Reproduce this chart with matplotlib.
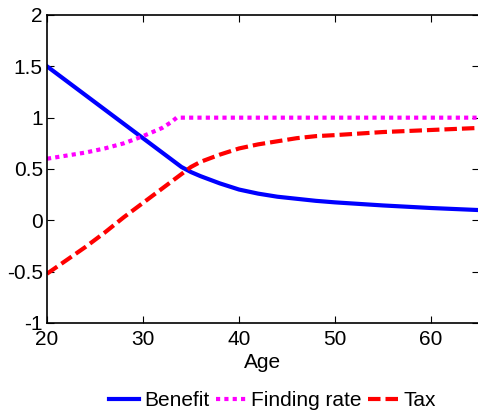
import matplotlib
matplotlib.use("Agg")
import matplotlib.pyplot as plt

plt.rcParams["font.family"] = ["Liberation Sans", "DejaVu Sans"]

# values
age_benefit = [20, 22, 24, 26, 28, 30, 32, 34, 35, 36, 38, 40, 42, 44, 46, 48, 50, 55, 60, 65]
benefit = [1.5, 1.36, 1.22, 1.08, 0.94, 0.80, 0.66, 0.52, 0.47, 0.43, 0.36, 0.30,
           0.26, 0.23, 0.21, 0.19, 0.175, 0.145, 0.12, 0.10]

age_finding = [20, 22, 24, 26, 28, 30, 32, 33, 33.5, 40, 50, 60, 65]
finding_rate = [0.60, 0.63, 0.66, 0.70, 0.75, 0.82, 0.90, 0.96, 1.0, 1.0, 1.0, 1.0, 1.0]

age_tax = [20, 22, 24, 26, 28, 30, 32, 34, 35, 36, 38, 40, 42, 44, 46, 48, 50, 55, 60, 65]
tax = [-0.52, -0.39, -0.26, -0.12, 0.03, 0.17, 0.31, 0.45, 0.52, 0.57, 0.64, 0.70,
       0.74, 0.77, 0.80, 0.82, 0.83, 0.86, 0.88, 0.90]

x_ticks = [20, 30, 40, 50, 60]
y_ticks = [-1, -0.5, 0, 0.5, 1, 1.5, 2]
y_labels = ["-1", "-0.5", "0", "0.5", "1", "1.5", "2"]

fig = plt.figure(figsize=(4.78, 4.17), dpi=100)
ax = fig.add_axes([47 / 478, 94 / 417, 432 / 478, 308 / 417])

ax.plot(age_benefit, benefit, color="#0000ff", lw=3, label="Benefit")
ax.plot(age_finding, finding_rate, color="#ff00ff", lw=3, linestyle=(0, (1, 1)),
        label="Finding rate")
ax.plot(age_tax, tax, color="#ff0000", lw=3, linestyle=(0, (3, 1.2)), label="Tax")

ax.set_xlim(20, 65)
ax.set_ylim(-1, 2)
ax.set_xticks(x_ticks)
ax.set_yticks(y_ticks)
ax.set_yticklabels(y_labels)
ax.tick_params(direction="in", length=5, width=0.8, labelsize=15, top=True, right=True,
               pad=3)
ax.tick_params(axis="x", pad=5)
for s in ax.spines.values():
    s.set_linewidth(1.2)

ax.set_xlabel("Age", fontsize=15, labelpad=3)

# horizontal legend under the axes, like the original
ax.legend(loc="upper center", bbox_to_anchor=(0.522, -0.195), ncol=3, frameon=False,
          fontsize=15, handlelength=1.45, handletextpad=0.25, columnspacing=0.3,
          borderaxespad=0)

fig.savefig("out.png", dpi=100)
